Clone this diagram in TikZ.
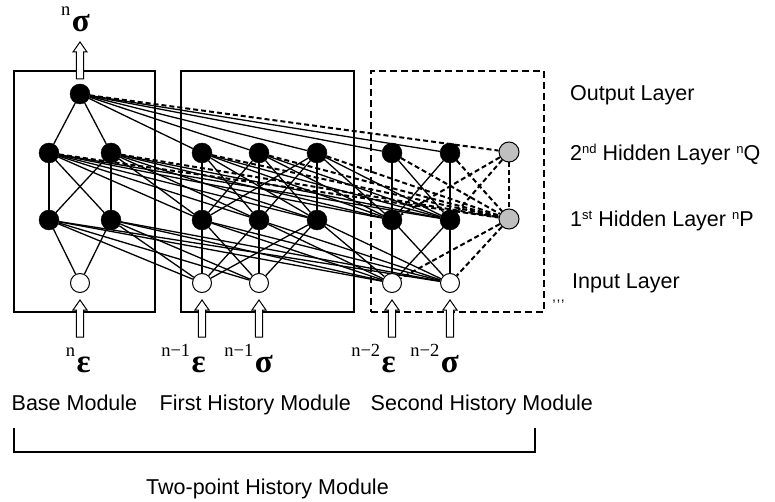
\documentclass[tikz,border=0pt]{standalone}
\usepackage{fontspec}
\setmainfont{Liberation Sans}
\newfontfamily\tnr{Liberation Serif}
\usetikzlibrary{backgrounds,calc}
\newcommand\supx[1]{\raisebox{7pt}{\fontsize{13}{13}\selectfont #1}}
\newcommand\grklab[2]{{\tnr\raisebox{16pt}{\fontsize{18.5}{18.5}\selectfont #1}\hspace{1.5pt}\fontsize{33}{33}\selectfont\bfseries #2}}
\begin{document}
\begin{tikzpicture}[x=1pt,y=-1pt,
 hid/.style={circle, fill=black, draw=black, minimum size=20pt, inner sep=0pt},
 inp/.style={circle, fill=white, draw=black, line width=1pt, minimum size=19pt, inner sep=0pt},
 gry/.style={circle, fill=gray!50, draw=black, line width=1pt, minimum size=20pt, inner sep=0pt},
 conn/.style={line width=1.3pt},
 dconn/.style={line width=2pt, dash pattern=on 5pt off 3pt},
 modbox/.style={draw=black, line width=1.4pt, inner sep=0pt},
 dbox/.style={draw=black, line width=2.3pt, dash pattern=on 7pt off 4pt, inner sep=0pt},
 txt/.style={font=\fontsize{21.5}{26}\selectfont, inner sep=0pt, anchor=base west},
 glab/.style={inner sep=0pt, anchor=base east},
 hollow/.pic={\draw[line width=1pt, fill=white] (-3.7,0) -- (-3.7,-27) -- (-7,-27) -- (0,-37) -- (7,-27) -- (3.7,-27) -- (3.7,0) -- cycle;}
]
\useasboundingbox (0,0) rectangle (775,502);

% module boxes
\node[modbox, minimum width=141pt, minimum height=241pt] (box0) at (84.5,191.5) {};
\node[modbox, minimum width=173pt, minimum height=241pt] (box1) at (267.5,191.5) {};
\node[dbox, minimum width=173pt, minimum height=241pt] (box2) at (457.5,191.5) {};

% output
\node[hid] (o) at (80,94) {};
% second hidden layer
\node[hid] (q01) at (49,153) {};
\node[hid] (q02) at (111,153) {};
\node[hid] (q11) at (202,153) {};
\node[hid] (q12) at (259,153) {};
\node[hid] (q13) at (317,153) {};
\node[hid] (q21) at (392,153) {};
\node[hid] (q22) at (450,153) {};
\node[gry] (q23) at (509,152) {};
% first hidden layer
\node[hid] (p01) at (49,220) {};
\node[hid] (p02) at (111,220) {};
\node[hid] (p11) at (202,220) {};
\node[hid] (p12) at (259,220) {};
\node[hid] (p13) at (317,220) {};
\node[hid] (p21) at (392,220) {};
\node[hid] (p22) at (450,220) {};
\node[gry] (p23) at (509,219) {};
% inputs
\node[inp] (i01) at (80,283) {};
\node[inp] (i11) at (202,283) {};
\node[inp] (i12) at (259,283) {};
\node[inp] (i21) at (392,283) {};
\node[inp] (i22) at (450,283) {};

\begin{scope}[on background layer]
 % output to second hidden
 \foreach \t in {q01,q02,q11,q12,q13,q21,q22} \draw[conn] (o) -- (\t);
 \draw[dconn] (o) -- (q23);
 % second hidden to first hidden
 \foreach \s in {q01,q02} {
   \foreach \t in {p01,p02,p11,p12,p13,p21,p22} \draw[conn] (\s) -- (\t);
   \draw[dconn] (\s) -- (p23);
 }
 \foreach \s in {q11,q12,q13} {
   \foreach \t in {p11,p12,p13,p21,p22} \draw[conn] (\s) -- (\t);
   \draw[dconn] (\s) -- (p23);
 }
 \foreach \s in {q21,q22} {
   \foreach \t in {p21,p22} \draw[conn] (\s) -- (\t);
   \draw[dconn] (\s) -- (p23);
 }
 \foreach \t in {p21,p22,p23} \draw[dconn] (q23) -- (\t);
 % first hidden to inputs
 \foreach \s in {p01,p02} \foreach \t in {i01,i11,i12,i21,i22} \draw[conn] (\s) -- (\t);
 \foreach \s in {p11,p12,p13} \foreach \t in {i11,i12,i21,i22} \draw[conn] (\s) -- (\t);
 \foreach \s in {p21,p22} \foreach \t in {i21,i22} \draw[conn] (\s) -- (\t);
 \foreach \t in {i21,i22} \draw[dconn] (p23) -- (\t);
\end{scope}

% hollow arrows
\pic at ($(o)+(0,-15)$) {hollow};
\foreach \t in {i01,i11,i12,i21,i22} \pic at ($(\t)+(0,54)$) {hollow};

% greek labels
\node[glab] (sigout) at (90,32) {\grklab{n}{σ}};
\node[glab] (l01) at (91,372) {\grklab{n}{ε}};
\node[glab] (l11) at (206,372) {\grklab{n−1}{ε}};
\node[glab] (l12) at (273,372) {\grklab{n−1}{σ}};
\node[glab] (l21) at (396,372) {\grklab{n−2}{ε}};
\node[glab] (l22) at (459,372) {\grklab{n−2}{σ}};

% layer labels
\node[txt] (lo) at (570,101) {Output Layer};
\node[txt] (lq) at (570,161) {2\supx{nd} Hidden Layer \supx{n}Q};
\node[txt] (lp) at (570,227) {1\supx{st} Hidden Layer \supx{n}P};
\node[txt] (li) at (572,288) {Input Layer};
\node[inner sep=0pt, anchor=base west, font=\fontsize{14}{14}\selectfont] (commas) at (552,301) {,\kern0.5pt,\kern0.5pt,};

% module labels
\node[txt] (mb) at (11.5,410) {Base Module};
\node[txt] (mf) at (159.5,410) {First History Module};
\node[txt] (ms) at (370.5,410) {Second History Module};

% bracket
\coordinate (brL) at (14,428);
\coordinate (brR) at (535,428);
\draw[line width=1.6pt] (brL) -- (brL |- 0,452) -- (brR |- 0,452) -- (brR);
\node[txt] (mt) at (146,494) {Two-point History Module};
\end{tikzpicture}
\end{document}
